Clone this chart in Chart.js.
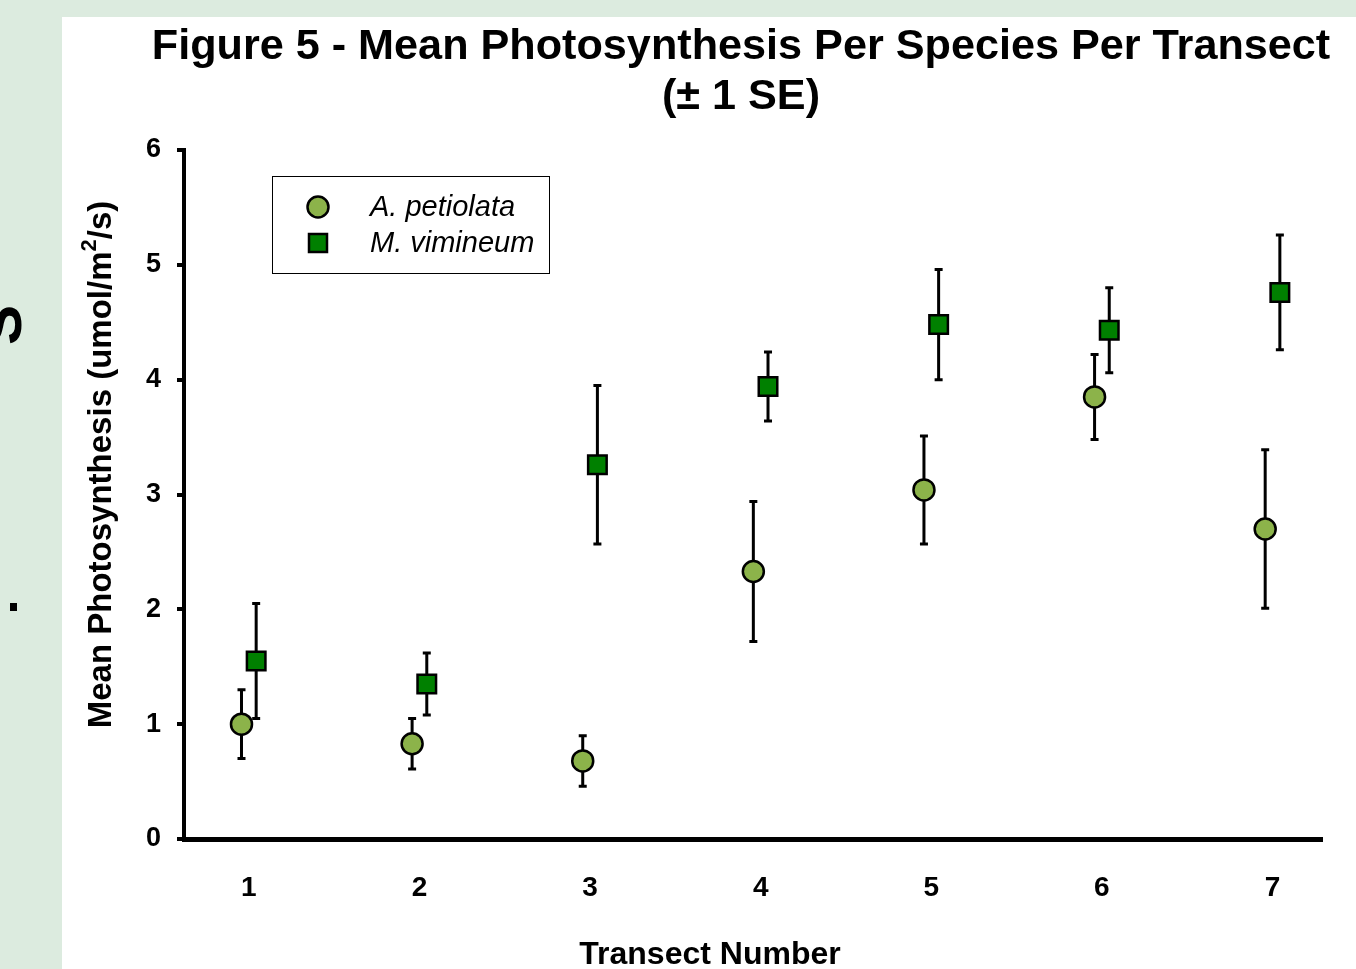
<!DOCTYPE html>
<html>
<head>
<meta charset="utf-8">
<title>Figure 5 - Mean Photosynthesis</title>
<script src="https://cdn.jsdelivr.net/npm/chart.js@4.4.1/dist/chart.umd.min.js"></script>
<style>
  html, body { margin: 0; padding: 0; }
  body { width: 1356px; height: 969px; background: #dcebdf; position: relative; overflow: hidden; font-family: "Liberation Sans", Arial, sans-serif; }
  #sheet { position: absolute; left: 62px; top: 17px; right: 0; bottom: 0; background: #fff; }
  #edgeText { position: absolute; left: -29px; top: 345px; font-size: 60px; font-weight: bold; line-height: 1; white-space: nowrap; transform-origin: left top; transform: rotate(-90deg); }
  #bullet { position: absolute; left: 10px; top: 603px; width: 7px; height: 8px; background: #000; }
  #charts { position: absolute; left: 0; top: 0; }
</style>
</head>
<body>
<div id="sheet"></div>
<div id="edgeText">S</div>
<div id="bullet"></div>
<canvas id="charts" width="1356" height="969"></canvas>
<script>
const transects = [1, 2, 3, 4, 5, 6, 7];
const yTicks = [0, 1, 2, 3, 4, 5, 6];
const seriesNames = ['A. petiolata', 'M. vimineum'];
const petiolataMean = [1.00, 0.83, 0.68, 2.33, 3.04, 3.85, 2.70];
const petiolataSE = [0.30, 0.22, 0.22, 0.61, 0.47, 0.37, 0.69];
const vimineumMean = [1.55, 1.35, 3.26, 3.94, 4.48, 4.43, 4.76];
const vimineumSE = [0.50, 0.27, 0.69, 0.30, 0.48, 0.37, 0.50];

const FONT = '"Liberation Sans", Arial, sans-serif';
const SHIFT = 0.043; // side-by-side offset of the two species within a transect
const seList = [petiolataSE, vimineumSE];

const errorBars = {
  id: 'errorBars',
  beforeDatasetsDraw(chart) {
    const { ctx, scales: { x, y } } = chart;
    ctx.save();
    ctx.strokeStyle = '#000';
    ctx.lineWidth = 3;
    chart.data.datasets.forEach((ds, i) => {
      ds.data.forEach((pt, j) => {
        const px = x.getPixelForValue(pt.x);
        const top = y.getPixelForValue(pt.y + seList[i][j]);
        const bot = y.getPixelForValue(pt.y - seList[i][j]);
        ctx.beginPath();
        ctx.moveTo(px, top); ctx.lineTo(px, bot);
        ctx.moveTo(px - 4, top); ctx.lineTo(px + 4, top);
        ctx.moveTo(px - 4, bot); ctx.lineTo(px + 4, bot);
        ctx.stroke();
      });
    });
    ctx.restore();
  }
};

const boxLegend = {
  id: 'boxLegend',
  afterDraw(chart) {
    const { ctx, chartArea } = chart;
    const left = chartArea.left + 88, top = chartArea.top + 26;
    ctx.save();
    ctx.fillStyle = '#fff';
    ctx.fillRect(left, top, 277, 97);
    ctx.strokeStyle = '#000';
    ctx.lineWidth = 1;
    ctx.strokeRect(left + 0.5, top + 0.5, 277, 97);
    chart.data.datasets.forEach((ds, i) => {
      const cx = left + 46, cy = top + 31 + i * 36;
      ctx.beginPath();
      if (ds.pointStyle === 'rect') {
        ctx.rect(cx - 9, cy - 9, 18, 18);
      } else {
        ctx.arc(cx, cy, 10.5, 0, Math.PI * 2);
      }
      ctx.fillStyle = ds.backgroundColor;
      ctx.fill();
      ctx.lineWidth = 2.5;
      ctx.strokeStyle = '#000';
      ctx.stroke();
      ctx.fillStyle = '#000';
      ctx.font = 'italic 29px ' + FONT;
      ctx.textBaseline = 'middle';
      ctx.textAlign = 'left';
      ctx.fillText(ds.label, left + 98, cy + 1);
    });
    ctx.restore();
  }
};

const axisTitles = {
  id: 'axisTitles',
  afterDraw(chart) {
    const { ctx, chartArea } = chart;
    ctx.save();
    ctx.fillStyle = '#000';
    ctx.textBaseline = 'middle';
    ctx.textAlign = 'center';
    ctx.font = 'bold 32px ' + FONT;
    ctx.fillText('Transect Number', (chartArea.left + chartArea.right) / 2 - 43, chartArea.bottom + 116);

    // y title, rotated, with superscript 2
    const partA = 'Mean Photosynthesis (umol/m', sup = '2', partB = '/s)';
    ctx.translate(chartArea.left - 84, (chartArea.top + chartArea.bottom) / 2 - 30);
    ctx.rotate(-Math.PI / 2);
    ctx.textAlign = 'left';
    ctx.font = 'bold 33px ' + FONT;
    const wA = ctx.measureText(partA).width, wB = ctx.measureText(partB).width;
    ctx.font = 'bold 22px ' + FONT;
    const wS = ctx.measureText(sup).width;
    let xPos = -(wA + wS + wB) / 2;
    ctx.font = 'bold 33px ' + FONT;
    ctx.fillText(partA, xPos, 2);
    xPos += wA;
    ctx.font = 'bold 22px ' + FONT;
    ctx.fillText(sup, xPos, -10);
    xPos += wS;
    ctx.font = 'bold 33px ' + FONT;
    ctx.fillText(partB, xPos, 2);
    ctx.restore();
  }
};

const chartInstance = new Chart(document.querySelector('#charts'), {
  type: 'scatter',
  data: {
    datasets: [{
      label: seriesNames[0],
      data: transects.map((t, i) => ({ x: t - SHIFT, y: petiolataMean[i] })),
      pointStyle: 'circle',
      pointRadius: 10.5,
      pointHoverRadius: 10.5,
      backgroundColor: '#8cb34a',
      borderColor: '#000',
      borderWidth: 2.5
    }, {
      label: seriesNames[1],
      data: transects.map((t, i) => ({ x: t + SHIFT, y: vimineumMean[i] })),
      pointStyle: 'rect',
      pointRadius: 13.1,
      pointHoverRadius: 13.1,
      backgroundColor: '#008000',
      borderColor: '#000',
      borderWidth: 2.5
    }]
  },
  options: {
    responsive: false,
    animation: false,
    devicePixelRatio: 1,
    layout: { padding: { left: 126, right: 0, top: 0, bottom: 0 } },
    plugins: {
      legend: { display: false },
      tooltip: { enabled: false },
      title: {
        display: true,
        fullSize: true,
        text: ['Figure 5 - Mean Photosynthesis Per Species Per Transect', '(± 1 SE)'],
        color: '#000',
        font: { family: FONT, size: 43.2, weight: 'bold', lineHeight: 50 / 43.2 },
        padding: { top: 22, bottom: 28 }
      }
    },
    scales: {
      x: {
        type: 'linear',
        min: 0.62,
        max: 7.29,
        afterBuildTicks: (s) => { s.ticks = transects.map(v => ({ value: v })); },
        afterFit: (s) => { s.height = 130; },
        grid: { display: false },
        border: { display: true, color: '#000', width: 5 },
        ticks: {
          color: '#000',
          font: { family: FONT, size: 28, weight: 'bold' },
          padding: 24,
          maxRotation: 0
        }
      },
      y: {
        min: 0,
        max: 6,
        afterBuildTicks: (s) => { s.ticks = yTicks.map(v => ({ value: v })); },
        afterFit: (s) => { s.width = 58; },
        grid: { drawOnChartArea: false, tickLength: 7, lineWidth: 4, color: '#000' },
        border: { display: true, color: '#000', width: 4 },
        ticks: {
          color: '#000',
          font: { family: FONT, size: 27, weight: 'bold' },
          padding: 16
        }
      },
      yRight: {
        position: 'right',
        min: 0,
        max: 6,
        afterFit: (s) => { s.width = 34; },
        grid: { display: false },
        border: { display: false },
        ticks: { display: false }
      }
    }
  },
  plugins: [errorBars, boxLegend, axisTitles]
});
</script>
</body>
</html>
